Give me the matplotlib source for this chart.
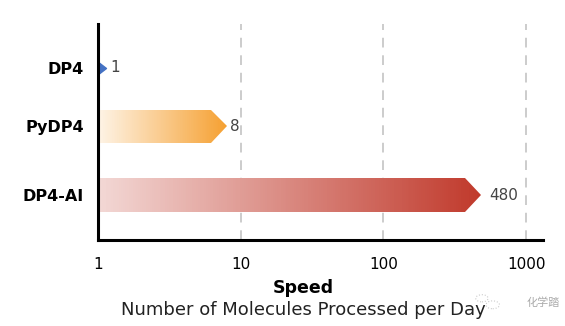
import matplotlib.pyplot as plt
import numpy as np
from matplotlib.colors import LinearSegmentedColormap, to_rgb
from matplotlib.patches import Polygon, Circle
from matplotlib.transforms import ScaledTranslation

plt.rcParams['font.family'] = ['DejaVu Sans', 'Noto Sans CJK SC']

methods = ['DP4', 'PyDP4', 'DP4-AI']
speeds = [1, 8, 480]
colors = ['#4472c4', '#f5a031', '#c0392b']

row_y = [0.0, 0.92, 2.0]  # row centres (layout only)
bar_h = 0.52
head = 1.29  # arrow head length as a factor on the log axis


def gradient_cmap(color, a0):
    c = np.array(to_rgb(color))
    light = 1 - a0 * (1 - c)
    return LinearSegmentedColormap.from_list('g', [light, c])


fig = plt.figure(figsize=(5.65, 3.26), dpi=100, facecolor='white')
ax = fig.add_axes([98/565, 1 - 240/326, 445/565, 216/326])
ax.set_xscale('log')
ax.set_xlim(1, 1313)
ax.set_ylim(2.707, -0.687)

for name, v, c, y in zip(methods, speeds, colors, row_y):
    if v <= 1:
        # no body, just a small pointer sitting on the axis
        ax.plot([v], [y], marker=[(0, -1), (1.3, 0), (0, 1)], markersize=11.5,
                color=c, linestyle='none', zorder=3, clip_on=False)
        tx = 12
    else:
        body_end = v / head
        y0, y1 = y - bar_h / 2, y + bar_h / 2
        verts = [(1, y0), (body_end, y0), (v, y), (body_end, y1), (1, y1)]
        poly = Polygon(verts, closed=True, facecolor='none', edgecolor='none')
        ax.add_patch(poly)
        xe = np.logspace(0, np.log10(v), 200)
        cval = np.log10(xe[:-1]) / np.log10(v)
        mesh = ax.pcolormesh(xe, [y0, y1], cval[None, :],
                             cmap=gradient_cmap(c, 0.12 if c == '#f5a031' else 0.2),
                             vmin=0, vmax=1, shading='flat', zorder=2, antialiased=False)
        mesh.set_clip_path(poly)
        tx = 3 if v < 100 else 9
    ax.text(v, y, str(v), fontsize=11, color='#444444', va='center', ha='left',
            transform=ax.transData + ScaledTranslation(tx / 100, 0, fig.dpi_scale_trans))

ax.set_yticks(row_y)
ax.set_yticklabels(methods, fontsize=11.5, fontweight='bold')
ax.set_xticks([1, 10, 100, 1000])
ax.set_xticklabels(['1', '10', '100', '1000'], fontsize=11)
ax.minorticks_off()
ax.tick_params(axis='both', length=0)
ax.tick_params(axis='x', pad=12)
ax.tick_params(axis='y', pad=10)

ax.grid(True, axis='x', color='#cccccc', linestyle=(0, (5, 4)), linewidth=1.4)
ax.set_axisbelow(True)
for s in ['top', 'right']:
    ax.spines[s].set_visible(False)
for s in ['left', 'bottom']:
    ax.spines[s].set_linewidth(2.2)
    ax.spines[s].set_color('black')
    ax.spines[s].set_zorder(4)

fig.text(303/565, 1 - 288/326, 'Speed', fontsize=12.5, fontweight='bold', ha='center', va='center')
fig.text(303/565, 1 - 310/326, 'Number of Molecules Processed per Day', fontsize=13,
         color='#222222', ha='center', va='center')

# watermark
fig.text(543/565, 1 - 303/326, '化学踏', fontsize=8, color='#aaaaaa', ha='center', va='center',
         family=['Noto Sans CJK SC', 'DejaVu Sans'])
fig.patches.append(Circle((0.853, 0.085), 0.011, transform=fig.transFigure, fill=False,
                          edgecolor='#cccccc', linewidth=0.8, linestyle=':'))
fig.patches.append(Circle((0.872, 0.065), 0.012, transform=fig.transFigure, fill=False,
                          edgecolor='#cccccc', linewidth=0.8, linestyle=':'))

fig.savefig('out.png', dpi=100, facecolor='white')
